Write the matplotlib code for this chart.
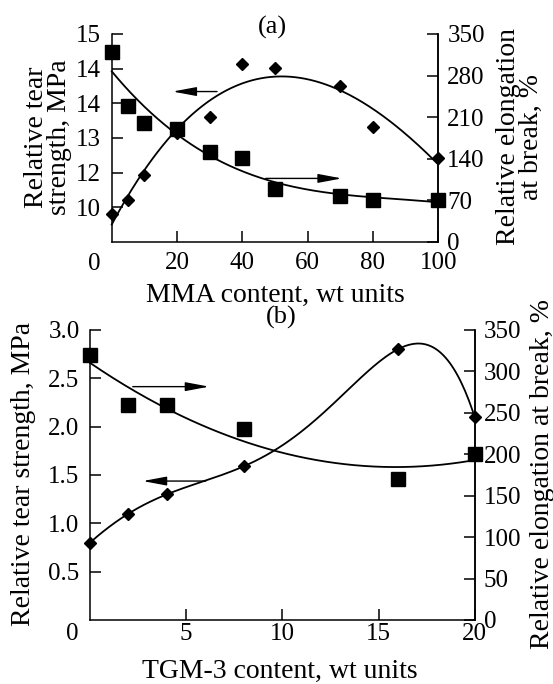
import matplotlib
matplotlib.use("Agg")
import matplotlib.pyplot as plt
import numpy as np

plt.rcParams['font.family'] = 'Liberation Serif'
plt.rcParams['font.size'] = 18
plt.rcParams['axes.labelsize'] = 20
plt.rcParams['axes.linewidth'] = 1.1

# (a) MMA content
mma = [0, 5, 10, 20, 30, 40, 50, 70, 80, 100]
tear_a = [9.80, 10.20, 10.92, 12.14, 12.62, 14.13, 14.01, 13.50, 12.31, 11.41]
elong_a = [320, 229, 201, 190, 151, 141, 89, 78, 70, 70]
left_ticks_a = [10, 11, 12, 13, 14, 15]
left_labels_a = ['10', '12', '13', '14', '14', '15']
right_ticks_a = [0, 70, 140, 210, 280, 350]

# (b) TGM-3 content
tgm = [0, 2, 4, 8, 16, 20]
tear_b = [0.80, 1.10, 1.30, 1.59, 2.80, 2.10]
elong_b = [320, 259, 260, 230, 170, 200]
left_ticks_b = [0.5, 1.0, 1.5, 2.0, 2.5, 3.0]
right_ticks_b = [0, 50, 100, 150, 200, 250, 300, 350]

fig = plt.figure(figsize=(5.53, 6.84), dpi=100)
ARROW = dict(arrowstyle='-|>,head_length=0.8,head_width=0.15', color='black', lw=1)


def style(ax, ax2, xpad):
    ax.spines['top'].set_visible(False)
    ax2.spines['top'].set_visible(False)
    ax2.spines['left'].set_visible(False)
    ax2.spines['bottom'].set_visible(False)
    ax.tick_params(direction='in', length=8, width=1.1)
    ax.tick_params(axis='y', pad=7.5)
    ax.tick_params(axis='x', pad=xpad)
    ax2.tick_params(direction='in', length=8, width=1.1, pad=6.5)


def corner_zero(ax, dx, dy):
    ax.annotate('0', xy=(0, 0), xycoords='axes fraction', xytext=(dx, dy),
                textcoords='offset pixels', ha='center', va='center')


def fit_line(ax, x, y, deg, n=200):
    c = np.polyfit(x, y, deg)
    xs = np.linspace(min(x), max(x), n)
    ax.plot(xs, np.polyval(c, xs), color='black', lw=1.3, clip_on=False)


# ---------- panel (a) ----------
ax = fig.add_axes([0.202, 0.6462, 0.5906, 0.3041])
ax2 = ax.twinx()
style(ax, ax2, 7.5)

fit_line(ax, mma, tear_a, 3)
ax.plot(mma, tear_a, 'D', color='black', ms=6.5, clip_on=False, zorder=5)
fit_line(ax2, mma, elong_a, 3)
ax2.plot(mma, elong_a, 's', color='black', ms=9.5, clip_on=False, zorder=5)

ax.set_xlim(0, 100)
ax.set_ylim(9, 15)
ax2.set_ylim(0, 350)
ax.set_xticks([20, 40, 60, 80, 100])
ax.set_yticks(left_ticks_a)
ax.set_yticklabels(left_labels_a)
ax2.set_yticks(right_ticks_a)
corner_zero(ax, -17.5, -22)

ax.set_xlabel('MMA content, wt units', va='center')
ax.xaxis.set_label_coords(0.5, -0.256)
ax.set_ylabel('Relative tear\nstrength, MPa', linespacing=0.88, va='center')
ax.yaxis.set_label_coords(-0.195, 0.505)
ax2.set_ylabel('Relative elongation\nat break, %', linespacing=0.85, va='center')
ax2.yaxis.set_label_coords(1.25, 0.505)
fig.text(0.492, 0.9605, '(a)', ha='center', va='center', fontsize=19)

ax.annotate('', xy=(17.8, 13.34), xytext=(33.1, 13.34), arrowprops=ARROW)
ax2.annotate('', xy=(71.3, 107), xytext=(46.3, 107), arrowprops=ARROW)

# ---------- panel (b) ----------
bx = fig.add_axes([0.1627, 0.0936, 0.6957, 0.424])
bx2 = bx.twinx()
style(bx, bx2, 2)

fit_line(bx, tgm, tear_b, 5)
bx.plot(tgm, tear_b, 'D', color='black', ms=6.5, clip_on=False, zorder=5)
fit_line(bx2, tgm, elong_b, 2)
bx2.plot(tgm, elong_b, 's', color='black', ms=9.5, clip_on=False, zorder=5)

bx.set_xlim(0, 20)
bx.set_ylim(0, 3.0)
bx2.set_ylim(0, 350)
bx.set_xticks([5, 10, 15, 20])
bx.set_yticks(left_ticks_b)
bx.set_yticklabels(['%.1f' % v for v in left_ticks_b])
bx2.set_yticks(right_ticks_b)
corner_zero(bx, -17.5, -14)

bx.set_xlabel('TGM-3 content, wt units', va='center')
bx.xaxis.set_label_coords(0.494, -0.179)
bx.set_ylabel('Relative tear strength, MPa', va='center')
bx.yaxis.set_label_coords(-0.174, 0.503)
bx2.set_ylabel('Relative elongation at break, %', va='center')
bx2.yaxis.set_label_coords(1.175, 0.503)
fig.text(0.508, 0.5355, '(b)', ha='center', va='center', fontsize=19)

bx.annotate('', xy=(2.6, 1.437), xytext=(6.16, 1.437), arrowprops=ARROW)
bx2.annotate('', xy=(6.34, 281.6), xytext=(2.08, 281.6), arrowprops=ARROW)

fig.savefig('out.png', dpi=100)
